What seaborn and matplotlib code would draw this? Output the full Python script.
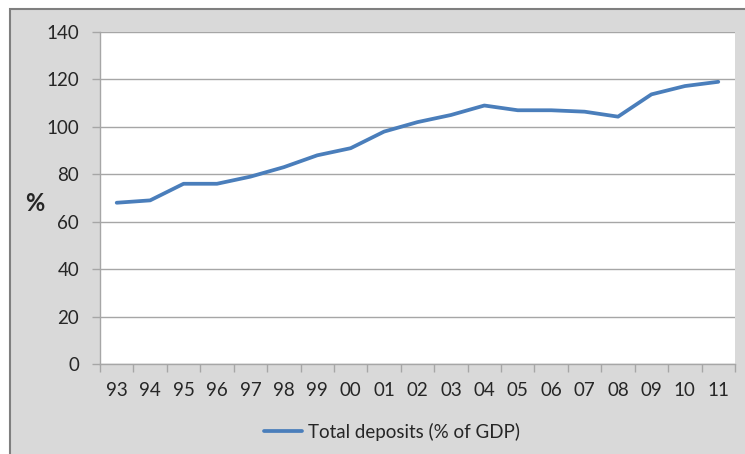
import matplotlib
matplotlib.use("Agg")
import matplotlib.pyplot as plt
import seaborn as sns
import pandas as pd
from matplotlib.patches import Rectangle
from matplotlib.ticker import FixedLocator

years = ["93", "94", "95", "96", "97", "98", "99", "00", "01", "02",
         "03", "04", "05", "06", "07", "08", "09", "10", "11"]
deposits = [68, 69, 76, 76, 79, 83, 88, 91, 98, 102,
            105, 109, 107, 107, 106.4, 104.3, 113.7, 117.2, 119]
yticks = [0, 20, 40, 60, 80, 100, 120, 140]
series_name = "Total deposits (% of GDP)"

df = pd.DataFrame({"year": years, "value": deposits})

sns.set_theme(style="white")
plt.rcParams["font.family"] = ["Lato", "DejaVu Sans"]

W, H = 745, 454
fig = plt.figure(figsize=(W / 100, H / 100), dpi=100)
fig.patch.set_facecolor("white")
bg = Rectangle((10 / W, -0.05), 1.1, 1.05 - 9 / H, transform=fig.transFigure,
               facecolor="#D9D9D9", edgecolor="#7F7F7F", linewidth=1.5, zorder=-10)
fig.patches.append(bg)

ax = fig.add_axes([100 / W, 1 - 364 / H, 635 / W, 332 / H])
ax.set_zorder(5)
ax.set_facecolor("white")

sns.lineplot(data=df, x="year", y="value", ax=ax, color="#4A7EBB",
             linewidth=2.7, label=series_name, sort=False)

n = len(years)
ax.set_xlim(-0.5, n - 0.5)
ax.set_ylim(0, 140)
ax.set_yticks(yticks)
ax.set_yticklabels([str(v) for v in yticks])
ax.set_xticks(range(n))
ax.set_xticklabels(years)
ax.xaxis.set_minor_locator(FixedLocator([i - 0.5 for i in range(n + 1)]))

ax.grid(axis="y", color="#A6A6A6", linewidth=1.0)
ax.set_axisbelow(True)
for s in ["top", "right"]:
    ax.spines[s].set_visible(False)
for s in ["left", "bottom"]:
    ax.spines[s].set_color("#A6A6A6")
    ax.spines[s].set_linewidth(1.0)

ax.tick_params(axis="x", which="major", length=0, pad=13, labelsize=13.5,
               labelcolor="#262626")
ax.tick_params(axis="x", which="minor", length=6, width=1.0, color="#A6A6A6",
               direction="out", bottom=True)
ax.tick_params(axis="y", which="major", length=6, width=1.0, color="#A6A6A6",
               direction="out", left=True, pad=9, labelsize=13.5, labelcolor="#262626")

ax.set_xlabel("")
ax.set_ylabel("")
fig.text(35 / W, 1 - 203 / H, "%", fontsize=17, fontweight="bold", color="#262626",
         ha="center", va="center", zorder=6)

ax.get_legend().remove()
handles, labels = ax.get_legend_handles_labels()
leg = fig.legend(handles, labels, loc="center", bbox_to_anchor=(392 / W, 1 - 432 / H),
                 frameon=False, fontsize=13.5, handlelength=2.0, handletextpad=0.3,
                 labelcolor="#262626")
leg.set_zorder(6)

fig.savefig("out.png", dpi=100)
